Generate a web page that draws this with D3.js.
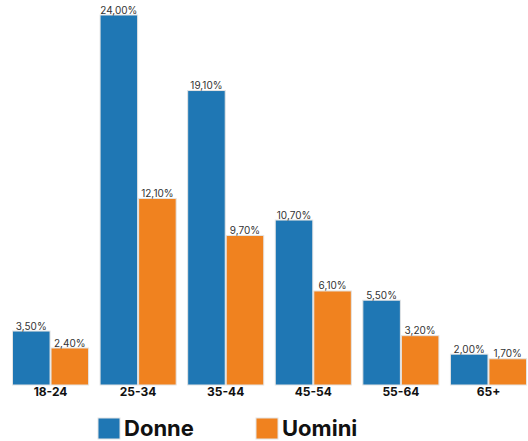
<!DOCTYPE html>
<html><head><meta charset="utf-8">
<script src="https://cdn.jsdelivr.net/npm/d3@7"></script>
<style>body{margin:0;background:#fff}svg{display:block}</style>
</head><body>
<svg id="c" width="528" height="441"></svg>
<script>
const categories = ["18-24","25-34","35-44","45-54","55-64","65+"];
const seriesNames = ["Donne","Uomini"];
const donne = [3.5,24.0,19.1,10.7,5.5,2.0];
const uomini = [2.4,12.1,9.7,6.1,3.2,1.7];
const colors = ["#1f77b4","#f0821f"];

const svg = d3.select("#c");
const baseY = 385, topY = 15;
const x0 = d3.scaleBand().domain(categories).range([12,527]).paddingInner(0.12).paddingOuter(0);
const x1 = d3.scaleBand().domain(seriesNames).range([0,x0.bandwidth()]).padding(0);
const y = d3.scaleLinear().domain([0,24]).range([baseY,topY]);
const fmt = v => d3.format(".2f")(v).replace(".",",") + "%";
const FONT = "Inter, sans-serif";

const rows = categories.map((c,i)=>({cat:c, vals:[{s:"Donne",v:donne[i]},{s:"Uomini",v:uomini[i]}]}));
const g = svg.append("g").selectAll("g").data(rows).join("g")
  .attr("transform", d=>`translate(${x0(d.cat)},0)`);
g.selectAll("rect").data(d=>d.vals).join("rect")
  .attr("x", d=>x1(d.s)+0.5).attr("width", x1.bandwidth()-1)
  .attr("y", d=>y(d.v)).attr("height", d=>baseY-y(d.v))
  .attr("fill", (d,i)=>colors[i]).attr("stroke","#e4e4e4").attr("stroke-width",1);
g.selectAll("text.v").data(d=>d.vals).join("text").attr("class","v")
  .attr("x", d=>x1(d.s)+x1.bandwidth()/2).attr("y", d=>y(d.v)-1.5)
  .attr("text-anchor","middle").attr("font-family",FONT)
  .attr("font-size",10).attr("fill","#333").text(d=>fmt(d.v));

const xAxis = d3.axisBottom(x0).tickSize(0).tickPadding(0);
const ax = svg.append("g").attr("transform",`translate(0,${baseY})`).call(xAxis);
ax.select(".domain").remove();
ax.selectAll("text").attr("font-family",FONT).attr("font-size",12)
  .attr("font-weight","bold").attr("fill","#111").attr("dy","0.95em");

const legX = [98,256];
const leg = svg.append("g").selectAll("g").data(seriesNames).join("g")
  .attr("transform",(d,i)=>`translate(${legX[i]},418)`);
leg.append("rect").attr("width",22).attr("height",21).attr("fill",(d,i)=>colors[i])
  .attr("stroke","#e4e4e4").attr("stroke-width",1);
leg.append("text").attr("x",26).attr("y",18).attr("font-family",FONT)
  .attr("font-size",22).attr("font-weight","bold").attr("fill","#111").text(d=>d);
</script>
</body></html>
